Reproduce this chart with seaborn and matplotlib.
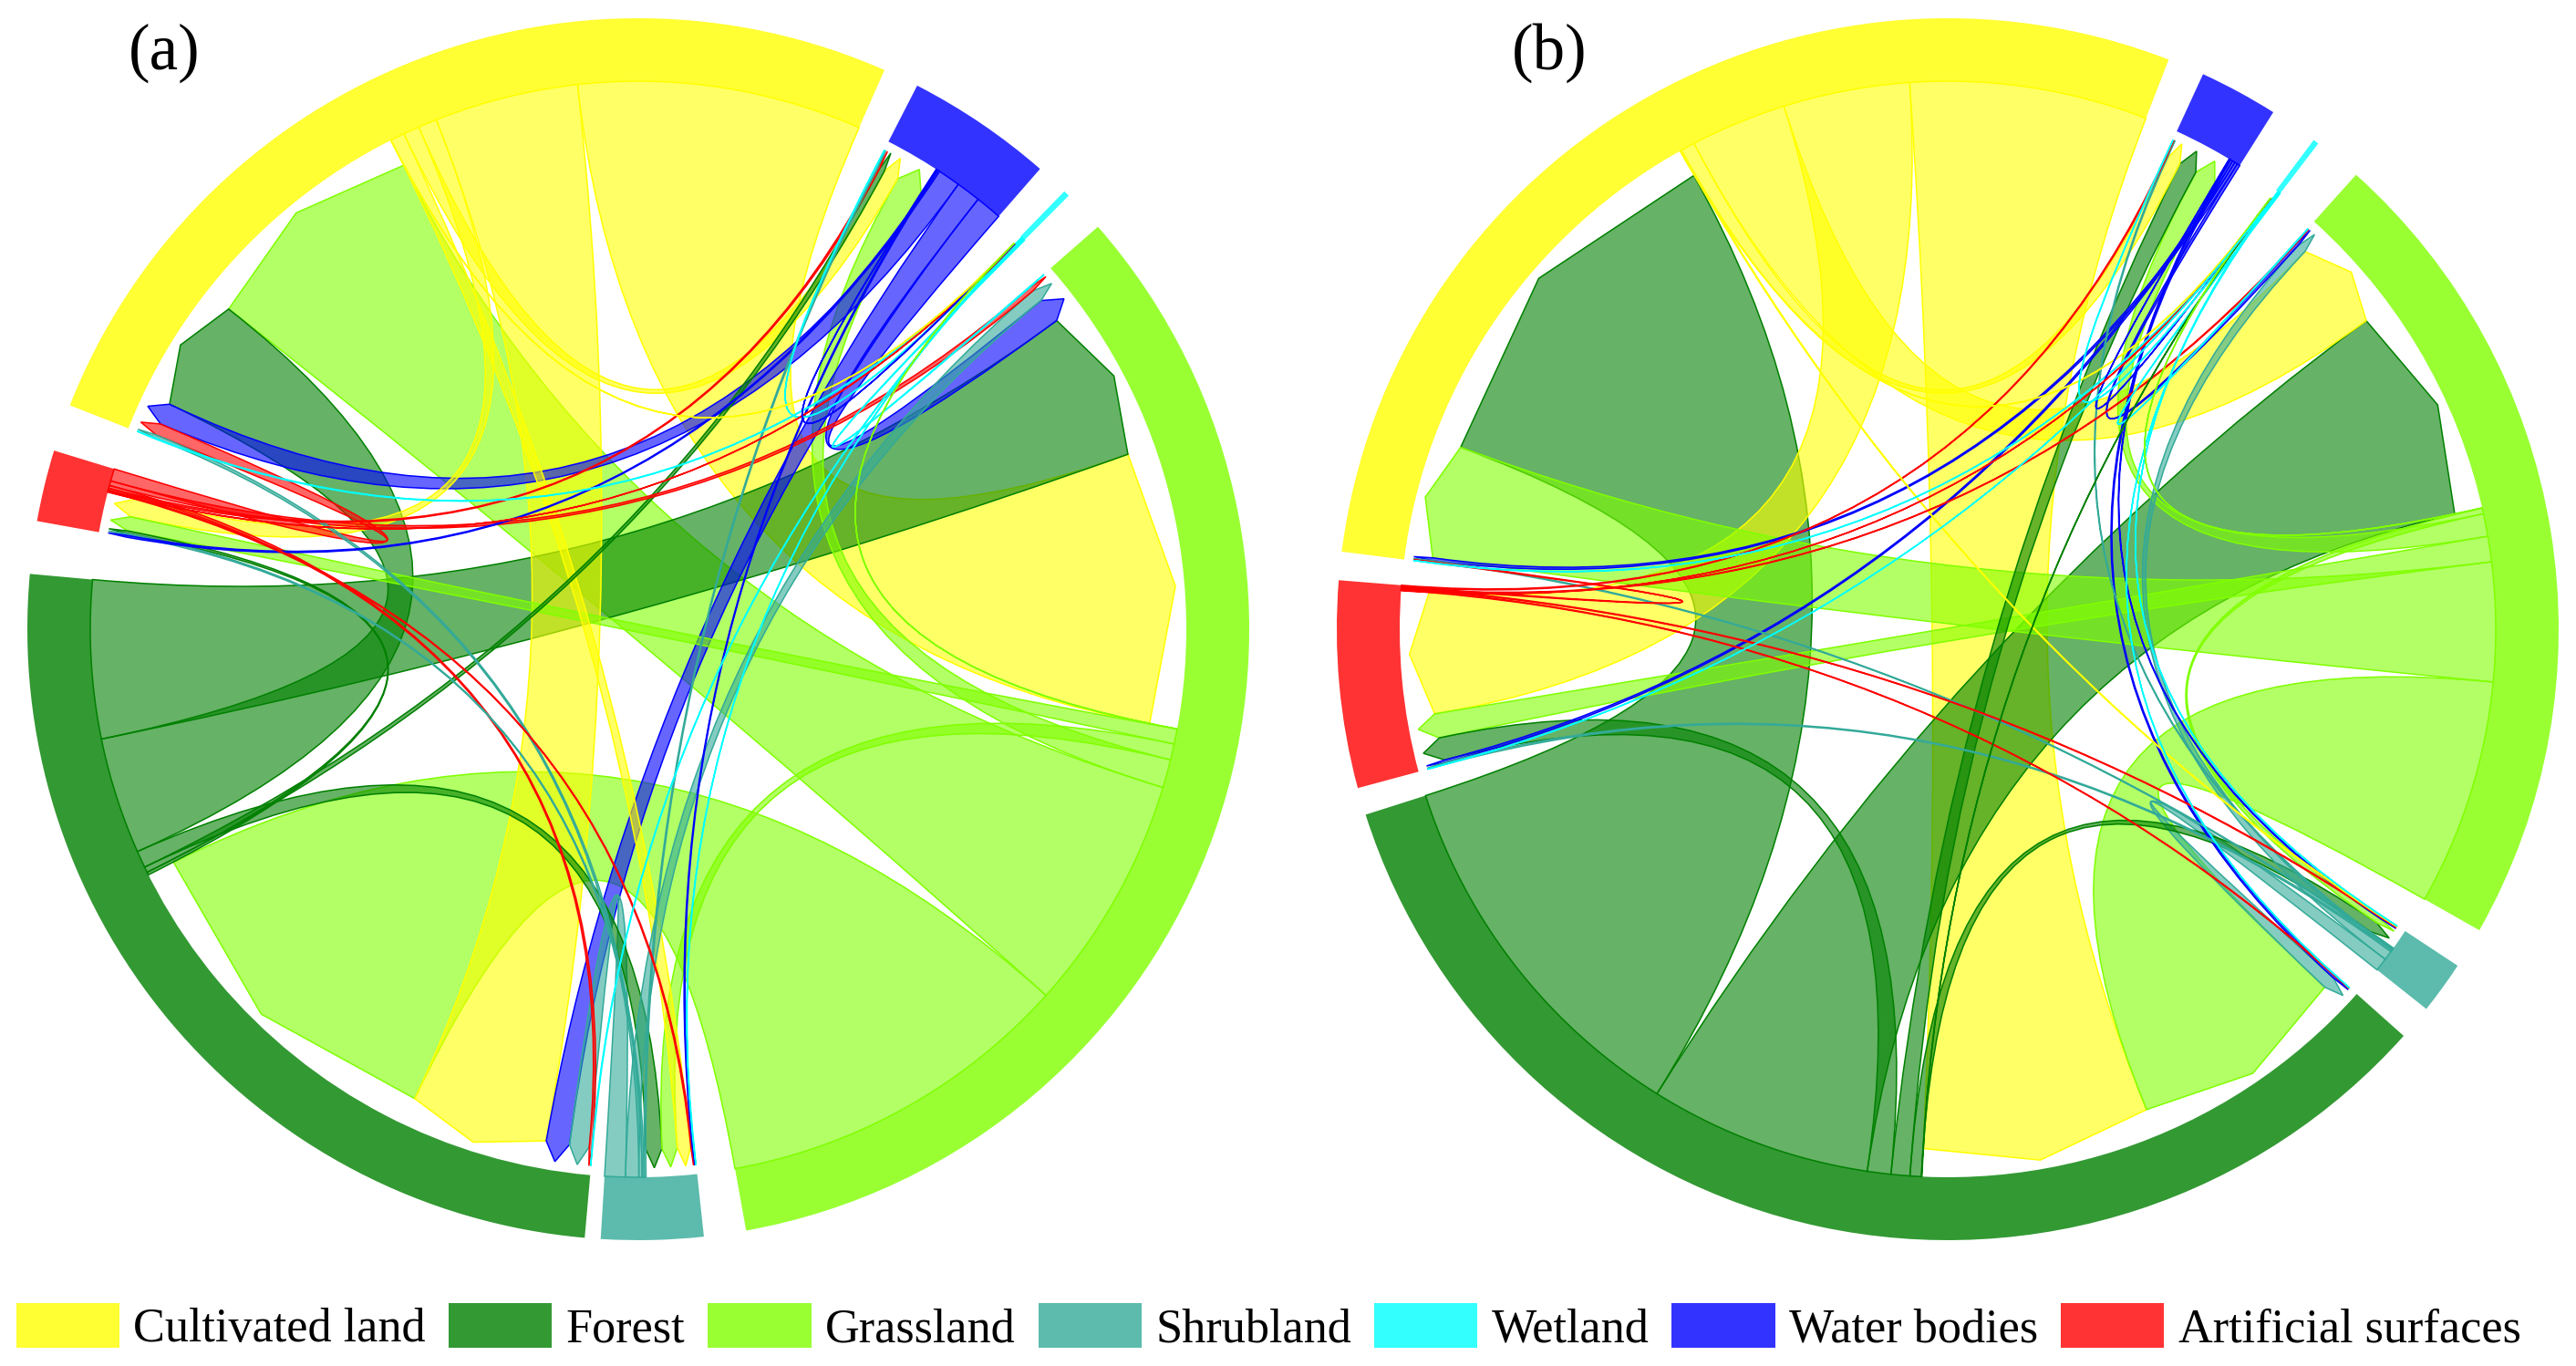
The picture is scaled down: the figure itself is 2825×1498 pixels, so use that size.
import numpy as np
import pandas as pd
import matplotlib
matplotlib.use("Agg")
import matplotlib.pyplot as plt
import seaborn as sns
from matplotlib.patches import Wedge, PathPatch, Patch
from matplotlib.path import Path
from matplotlib.colors import to_rgba

# 1. Data: land cover transfer flows (row = from, column = to)
sectors = ["Cultivated land", "Water bodies", "Wetland", "Grassland",
           "Shrubland", "Forest", "Artificial surfaces"]

a_cultivated = [0, 1.7, 0.03, 30.2, 1.5, 15.3, 2.0]
a_water = [2.4, 0, 0.05, 2.8, 0.15, 2.6, 0.2]
a_wetland = [0.1, 0.08, 0, 0.1, 0.06, 0.08, 0]
a_grassland = [25.2, 3.0, 0.03, 0, 1.7, 38.0, 1.6]
a_shrubland = [0.35, 0.2, 0, 1.4, 0, 2.2, 0.2]
a_forest = [12.4, 0.6, 0, 16.8, 1.8, 0, 0.3]
a_artificial = [1.3, 0.21, 0.05, 0.5, 0.16, 0.3, 0]

b_cultivated = [0, 1.5, 0.05, 10.2, 0.1, 25.2, 13.4]
b_water = [0.3, 0, 0.05, 0.3, 0.12, 0.25, 0.28]
b_wetland = [0.06, 0.05, 0, 0.07, 0.04, 0.05, 0.03]
b_grassland = [12.6, 2.4, 0.04, 0, 0.6, 24.0, 2.7]
b_shrubland = [0.12, 0.13, 0, 1.0, 0, 1.4, 0.2]
b_forest = [40.3, 2.0, 0.05, 23.6, 1.2, 0, 2.5]
b_artificial = [0.11, 0.12, 0.05, 0.1, 0.1, 0.09, 0]

legend_order = ["Cultivated land", "Forest", "Grassland", "Shrubland",
                "Wetland", "Water bodies", "Artificial surfaces"]
base_colors = ["#FFFF00", "#0000FF", "#00FFFF", "#80FF00", "#33AA99", "#008000", "#FF0000"]

flows_a = pd.DataFrame([a_cultivated, a_water, a_wetland, a_grassland, a_shrubland, a_forest, a_artificial],
                       index=sectors, columns=sectors)
flows_b = pd.DataFrame([b_cultivated, b_water, b_wetland, b_grassland, b_shrubland, b_forest, b_artificial],
                       index=sectors, columns=sectors)

# 2. Style
sns.set_theme(style="white")
plt.rcParams["font.family"] = ["Liberation Serif", "DejaVu Serif"]
palette = dict(zip(sectors, sns.color_palette(base_colors)))

R_RING = 0.897      # inner edge of the ring, chords start here
R_TIP = 0.882       # arrow tip
R_SHOULDER = 0.851  # arrow shoulders


def polar(angle, r):
    t = np.deg2rad(angle)
    return r * np.cos(t), r * np.sin(t)


def layout(flows, start, gaps):
    # each sector: incoming arrows first, then outgoing, both ascending, clockwise
    totals = flows.sum(axis=1) + flows.sum(axis=0)
    scale = (360 - sum(gaps)) / totals.sum()
    spans, src_pos, dst_pos = {}, {}, {}
    angle = start
    for name, gap in zip(sectors, gaps):
        sweep = totals[name] * scale
        spans[name] = (angle, angle - sweep)
        pos = angle
        incoming = flows[name]
        for other in incoming[incoming > 0].sort_values(kind="stable").index:
            w = incoming[other] * scale
            dst_pos[(other, name)] = (pos, pos - w)
            pos -= w
        outgoing = flows.loc[name]
        for other in outgoing[outgoing > 0].sort_values(kind="stable").index:
            w = outgoing[other] * scale
            src_pos[(name, other)] = (pos, pos - w)
            pos -= w
        angle -= sweep + gap
    return spans, src_pos, dst_pos


def draw_chord(ax, s, d, color):
    arc = np.linspace(s[0], s[1], max(2, int(abs(s[0] - s[1])) + 2))
    verts = [polar(x, R_RING) for x in arc]
    codes = [Path.MOVETO] + [Path.LINETO] * (len(arc) - 1)
    verts += [(0, 0), polar(d[0], R_SHOULDER)]
    codes += [Path.CURVE3, Path.CURVE3]
    verts += [polar((d[0] + d[1]) / 2, R_TIP), polar(d[1], R_SHOULDER)]
    codes += [Path.LINETO, Path.LINETO]
    verts += [(0, 0), polar(s[0], R_RING), polar(s[0], R_RING)]
    codes += [Path.CURVE3, Path.CURVE3, Path.CLOSEPOLY]
    ax.add_patch(PathPatch(Path(verts, codes), facecolor=to_rgba(color, 0.6),
                           edgecolor=color, lw=1.1, joinstyle="miter"))


def chord_panel(ax, flows, start, gaps):
    spans, src_pos, dst_pos = layout(flows, start, gaps)
    for name in sectors:
        a0, a1 = spans[name]
        ax.add_patch(Wedge((0, 0), 1.0, a1, a0, width=1.0 - R_RING,
                           facecolor=to_rgba(palette[name], 0.8), edgecolor="none"))
    # big ribbons first so the thin ones stay on top
    links = flows.stack()
    links = links[links > 0].sort_values(ascending=False)
    for (src, dst), v in links.items():
        draw_chord(ax, src_pos[(src, dst)], dst_pos[(src, dst)], palette[src])
    ax.set_xlim(-1, 1)
    ax.set_ylim(-1, 1)
    ax.set_aspect("equal")
    ax.axis("off")


# 3. Plot
W, H = 2825, 1498
fig = plt.figure(figsize=(W / 100, H / 100), dpi=100, facecolor="white")
ax_a = fig.add_axes([30 / W, 138 / H, 1340 / W, 1340 / H])
ax_b = fig.add_axes([1466 / W, 138 / H, 1340 / W, 1340 / H])

chord_panel(ax_a, flows_a, 158.5, [3.4, 3.1, 4.0, 4.0, 1.5, 5.0, 4.5])
chord_panel(ax_b, flows_b, 172.7, [3.5, 4.6, 4.6, 3.9, 3.3, 2.6, 2.7])

fig.text(180 / W, 1 - 58 / H, "(a)", fontsize=51, ha="center", va="center", color="black")
fig.text(1699 / W, 1 - 58 / H, "(b)", fontsize=51, ha="center", va="center", color="black")

handles = [Patch(facecolor=to_rgba(palette[n], 0.8), edgecolor="none", label=n) for n in legend_order]
fig.legend(handles=handles, ncol=7, loc="lower left", bbox_to_anchor=(18 / W, 16 / H),
           frameon=False, fontsize=37.6, borderpad=0, borderaxespad=0,
           handlelength=2.17, handleheight=1.07, handletextpad=0.29, columnspacing=0.48,
           labelcolor="black")

fig.savefig("out.png", dpi=100)
